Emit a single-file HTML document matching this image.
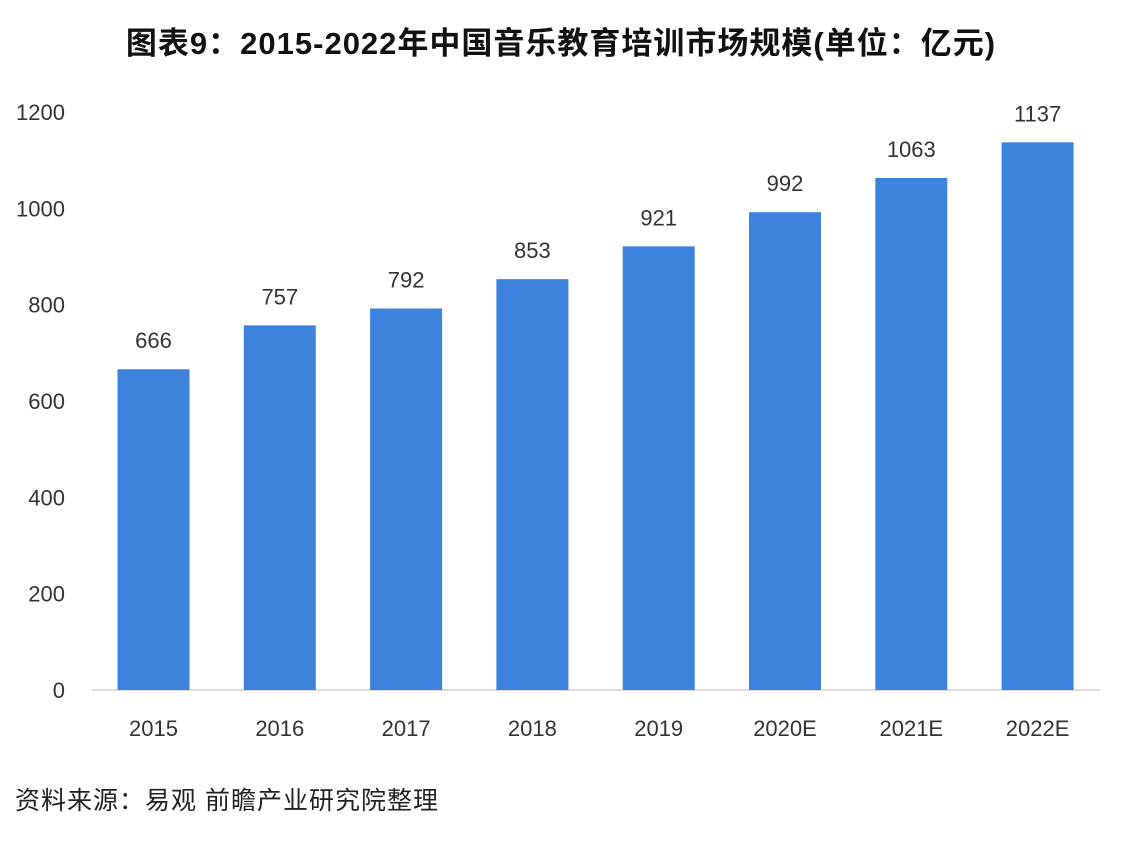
<!DOCTYPE html>
<html><head><meta charset="utf-8"><style>
body{margin:0;width:1122px;height:842px;background:#fff;overflow:hidden;font-family:"Liberation Sans","Noto Sans CJK SC",sans-serif;}
</style></head><body>
<svg width="1122" height="842" xmlns="http://www.w3.org/2000/svg">
<text x="561" y="54" text-anchor="middle" font-size="31" letter-spacing="1" font-weight="bold" fill="#111" font-family="Liberation Sans, Noto Sans CJK SC, sans-serif">图表9：2015-2022年中国音乐教育培训市场规模(单位：亿元)</text>
<g id="yaxis"></g>
<line x1="92" y1="690" x2="1100" y2="690" stroke="#d0d0d0" stroke-width="1.5"/>
<g id="bars"></g>
<text x="15" y="809" font-size="25" letter-spacing="1" fill="#222" font-family="Liberation Sans, Noto Sans CJK SC, sans-serif">资料来源：易观 前瞻产业研究院整理</text>
</svg>
<script>
const categories=["2015","2016","2017","2018","2019","2020E","2021E","2022E"];
const values=[666,757,792,853,921,992,1063,1137];
const yTicks=[0,200,400,600,800,1000,1200];
const NS="http://www.w3.org/2000/svg";
const y0=690,yMax=1200,yTop=112;
function y(v){return y0-(v/yMax)*(y0-yTop);}
function xc(i){return 153.5+i*126.3;}
const ya=document.getElementById('yaxis');
yTicks.forEach(t=>{
 const tx=document.createElementNS(NS,'text');
 
 
 tx.setAttribute('x',65);tx.setAttribute('y',y(t)+8);
 tx.setAttribute('text-anchor','end');tx.setAttribute('font-size','22');tx.setAttribute('fill','#333');
 tx.textContent=t;ya.appendChild(tx);
});
const g=document.getElementById('bars');
values.forEach((v,i)=>{
 const r=document.createElementNS(NS,'rect');
 
 
 r.setAttribute('x',xc(i)-36);r.setAttribute('width',72);
 r.setAttribute('y',y(v));r.setAttribute('height',y0-y(v));
 r.setAttribute('fill','#3d83de');g.appendChild(r);
 const l=document.createElementNS(NS,'text');
 
 
 l.setAttribute('x',xc(i));l.setAttribute('y',y(v)-21);
 l.setAttribute('text-anchor','middle');l.setAttribute('font-size','22');l.setAttribute('fill','#333');
 l.textContent=v;g.appendChild(l);
 const c=document.createElementNS(NS,'text');
 
 
 c.setAttribute('x',xc(i));c.setAttribute('y',736);
 c.setAttribute('text-anchor','middle');c.setAttribute('font-size','22');c.setAttribute('fill','#333');
 c.textContent=categories[i];g.appendChild(c);
});
</script>
</body></html>
